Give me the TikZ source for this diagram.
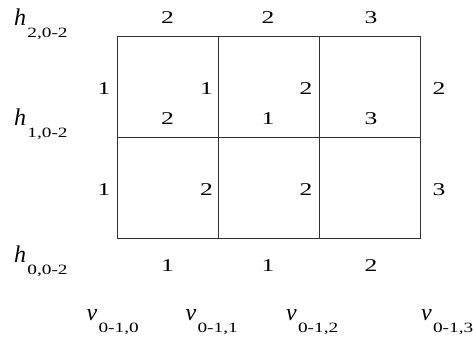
\documentclass[tikz,border=0pt]{standalone}
\usepackage{fontspec}
\setmainfont{Liberation Serif}
\newfontfamily\numfont{Liberation Serif}[FakeStretch=1.42]
\newfontfamily\subfont{Liberation Serif}[FakeStretch=1.36]
\newcommand{\sublab}[2]{{\fontsize{24}{24}\selectfont\itshape #1}\kern1.2pt\raisebox{-12.5pt}{\fontsize{14.2}{14.2}\subfont #2}}
\begin{document}
\begin{tikzpicture}[x=1pt,y=-1pt,
  num/.style={inner sep=0pt,anchor=base,font=\fontsize{18}{18}\numfont},
  lab/.style={inner sep=0pt,anchor=base west},
  gridline/.style={line width=0.9pt,draw=black!80}]
\useasboundingbox (0,0) rectangle (473,337);
% grid
\draw[gridline] (117,36) rectangle (420,238);
\draw[gridline] (218,36) -- (218,238);
\draw[gridline] (319,36) -- (319,238);
\draw[gridline] (117,137) -- (420,137);
% top labels
\node[num] (t1) at (167.5,24) {2};
\node[num] (t2) at (268,24) {2};
\node[num] (t3) at (371,24) {3};
% row 1 vertical-edge labels
\node[num] (a0) at (104,94) {1};
\node[num] (a1) at (206.5,94) {1};
\node[num] (a2) at (306,94) {2};
\node[num] (a3) at (439,94) {2};
% middle horizontal labels
\node[num] (m1) at (167.5,124) {2};
\node[num] (m2) at (268,124) {1};
\node[num] (m3) at (371,124) {3};
% row 2 vertical-edge labels
\node[num] (b0) at (104,195) {1};
\node[num] (b1) at (206.5,195) {2};
\node[num] (b2) at (306,195) {2};
\node[num] (b3) at (439,195) {3};
% bottom labels
\node[num] (u1) at (167.5,271) {1};
\node[num] (u2) at (268,271) {1};
\node[num] (u3) at (371,271) {2};
% h labels
\node[lab] (h2) at (14,25.5) {\sublab{h}{2,0-2}};
\node[lab] (h1) at (14,125) {\sublab{h}{1,0-2}};
\node[lab] (h0) at (14,262) {\sublab{h}{0,0-2}};
% v labels
\node[lab] (v0) at (86.5,320) {\sublab{v}{0-1,0}};
\node[lab] (v1) at (185.5,320) {\sublab{v}{0-1,1}};
\node[lab] (v2) at (286,320) {\sublab{v}{0-1,2}};
\node[lab] (v3) at (421,320) {\sublab{v}{0-1,3}};
\end{tikzpicture}
\end{document}
